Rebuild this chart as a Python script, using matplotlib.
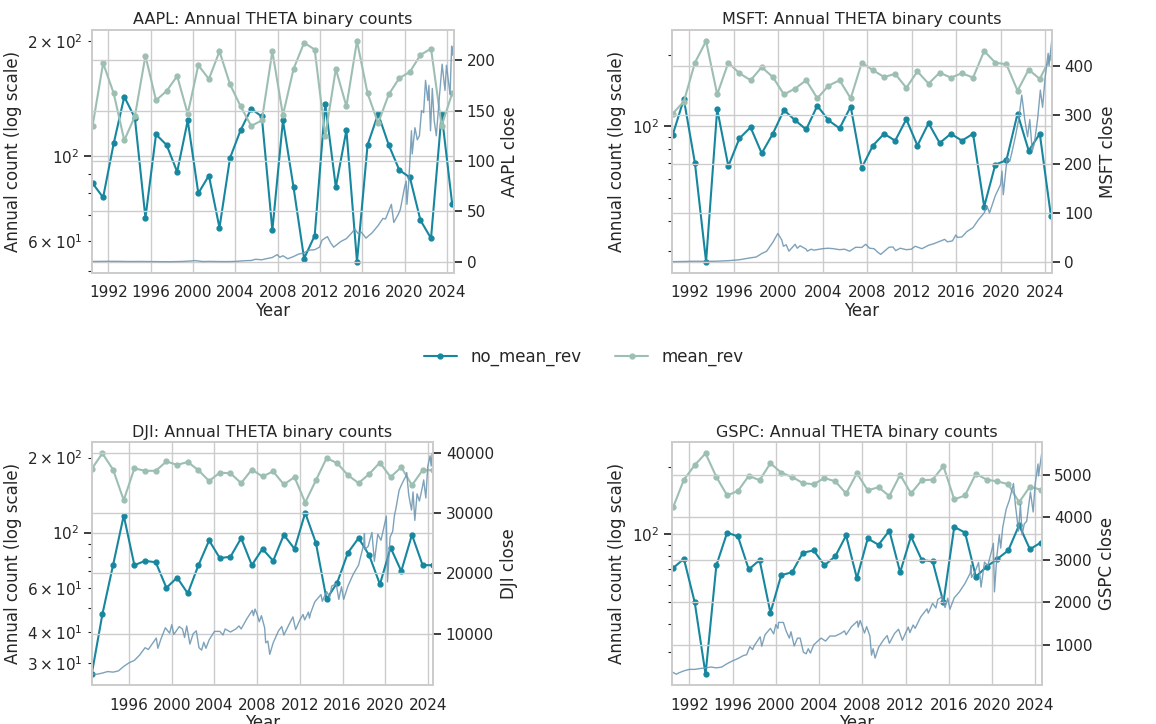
import numpy as np
import matplotlib
matplotlib.use('Agg')
import matplotlib.pyplot as plt
import seaborn as sns
from matplotlib.ticker import MultipleLocator, NullFormatter

sns.set_theme(style='whitegrid')
plt.rcParams['font.family'] = ['DejaVu Sans']

C_NO = '#17879f'      # no_mean_rev
C_MR = '#9dbfb2'      # mean_rev
C_PX = '#6f98b3'      # close price

'''
    Annual counts (read off the chart), one value per year
'''
aapl_years = np.arange(1990, 2025)
aapl_no = [85, 78, 108, 143, 126, 69, 114, 107, 91, 124, 80, 89, 65, 99, 117, 133, 127,
           64, 124, 83, 54, 62, 137, 83, 117, 53, 107, 129, 107, 92, 88, 68, 61, 129, 75]
aapl_mr = [120, 175, 146, 110, 127, 183, 140, 148, 162, 129, 173, 159, 188, 154, 135, 120, 124,
           188, 128, 169, 198, 190, 113, 169, 135, 200, 146, 122, 145, 160, 166, 184, 191, 120, 146]

msft_years = np.arange(1990, 2025)
msft_no = [92, 130, 70, 27, 118, 68, 89, 99, 77, 93, 117, 106, 97, 122, 106, 98, 121,
           67, 83, 93, 87, 107, 83, 103, 85, 93, 87, 93, 46, 69, 72, 113, 79, 93, 42]
msft_mr = [113, 127, 185, 228, 136, 185, 167, 156, 177, 161, 136, 144, 156, 131, 148, 156, 131,
           185, 172, 161, 166, 145, 170, 151, 168, 160, 167, 160, 207, 185, 182, 141, 173, 158, 196]

dji_years = np.arange(1992, 2025)
dji_no = [27, 47, 74, 117, 74, 77, 76, 60, 66, 57, 74, 93, 79, 80, 95, 74, 86,
          77, 98, 86, 120, 91, 54, 63, 83, 95, 81, 62, 87, 70, 98, 74, 74]
dji_mr = [180, 208, 179, 135, 181, 177, 177, 193, 187, 192, 178, 161, 174, 173, 158, 179, 168,
          176, 156, 167, 132, 162, 199, 190, 170, 158, 172, 191, 167, 183, 155, 178, 178]

gspc_years = np.arange(1990, 2025)
gspc_no = [71, 78, 50, 24, 73, 102, 98, 70, 77, 45, 66, 68, 83, 85, 73, 80, 99,
           64, 96, 90, 104, 68, 98, 77, 76, 50, 108, 102, 65, 72, 78, 85, 110, 86, 92]
gspc_mr = [132, 175, 203, 229, 180, 149, 156, 182, 174, 207, 188, 180, 169, 167, 178, 172, 152,
           187, 157, 162, 148, 184, 152, 174, 175, 201, 143, 149, 186, 175, 172, 167, 139, 163, 158]

'''
    Close prices (read off the chart), decimal year / close
'''
aapl_t = [1990.42, 1991.0, 1991.5, 1992.0, 1993.0, 1994.0, 1995.0, 1996.0, 1997.0, 1997.9,
          1999.0, 1999.9, 2000.2, 2000.9, 2001.5, 2002.5, 2003.3, 2004.0, 2004.9, 2005.5,
          2005.9, 2006.5, 2006.9, 2007.5, 2007.95, 2008.2, 2008.5, 2008.95, 2009.5, 2009.95,
          2010.5, 2010.95, 2011.5, 2011.95, 2012.2, 2012.7, 2013.0, 2013.3, 2013.95, 2014.5,
          2014.95, 2015.3, 2015.6, 2015.9, 2016.35, 2016.95, 2017.5, 2017.95, 2018.2, 2018.75,
          2018.98, 2019.4, 2019.6, 2019.98, 2020.15, 2020.22, 2020.4, 2020.65, 2020.72, 2020.98,
          2021.2, 2021.4, 2021.6, 2021.8, 2021.98, 2022.2, 2022.3, 2022.45, 2022.62, 2022.8,
          2023.0, 2023.3, 2023.55, 2023.82, 2023.96, 2024.3, 2024.45, 2024.55, 2024.7]
aapl_px = [0.35, 0.4, 0.45, 0.5, 0.45, 0.3, 0.35, 0.25, 0.15, 0.13,
           0.35, 0.9, 1.2, 0.27, 0.4, 0.25, 0.23, 0.38, 1.1, 1.3,
           2.5, 2.0, 3.0, 4.3, 7.1, 4.5, 6.0, 3.0, 5.2, 7.5,
           9.0, 11.5, 12.0, 14.5, 21.5, 25.0, 19.0, 14.5, 20.0, 23.0,
           28.0, 32.5, 28.0, 29.5, 23.5, 29.0, 36.0, 43.0, 42.5, 57.0,
           39.0, 47.0, 52.0, 73.0, 80.0, 57.0, 80.0, 130.0, 107.0, 133.0,
           121.0, 125.0, 150.0, 148.0, 180.0, 160.0, 175.0, 130.0, 172.0, 140.0,
           125.0, 165.0, 196.0, 170.0, 195.0, 166.0, 214.0, 205.0, 219.0]

msft_t = [1990.41, 1991.5, 1992.5, 1993.5, 1994.5, 1995.5, 1996.5, 1997.5, 1998.0, 1998.5,
          1998.95, 1999.5, 1999.95, 2000.3, 2000.45, 2000.7, 2000.95, 2001.5, 2001.7, 2001.95,
          2002.5, 2002.6, 2002.95, 2003.2, 2003.95, 2004.5, 2004.95, 2005.5, 2005.95, 2006.4,
          2006.95, 2007.5, 2007.85, 2008.2, 2008.6, 2008.95, 2009.2, 2009.95, 2010.3, 2010.55,
          2010.95, 2011.5, 2011.95, 2012.3, 2012.9, 2013.5, 2013.95, 2014.5, 2014.95, 2015.2,
          2015.65, 2015.95, 2016.1, 2016.5, 2016.95, 2017.5, 2017.95, 2018.5, 2018.75, 2018.98,
          2019.5, 2019.98, 2020.1, 2020.22, 2020.55, 2020.8, 2020.98, 2021.3, 2021.6, 2021.88,
          2022.15, 2022.4, 2022.6, 2022.82, 2023.0, 2023.3, 2023.55, 2023.75, 2023.98, 2024.25,
          2024.33, 2024.57]
msft_px = [0.6, 1.0, 1.5, 1.3, 1.6, 2.6, 4.5, 8.5, 10.0, 17.0,
           22.0, 40.0, 58.0, 45.0, 32.0, 35.0, 22.0, 36.0, 28.0, 33.0,
           26.0, 22.0, 26.0, 24.0, 27.0, 28.0, 27.0, 25.0, 26.0, 22.0,
           30.0, 29.5, 36.0, 28.0, 27.0, 19.5, 15.5, 30.0, 30.5, 23.0,
           28.0, 25.0, 26.0, 32.0, 27.0, 34.0, 37.0, 42.0, 46.0, 41.0,
           43.0, 55.0, 50.0, 51.0, 62.0, 70.0, 85.0, 100.0, 114.0, 100.0,
           135.0, 158.0, 185.0, 137.0, 210.0, 205.0, 222.0, 255.0, 290.0, 340.0,
           290.0, 255.0, 290.0, 226.0, 240.0, 290.0, 350.0, 315.0, 376.0, 425.0,
           400.0, 450.0]

dji_t = [1992.5, 1993.0, 1993.5, 1994.0, 1994.5, 1995.0, 1995.5, 1996.0, 1996.5, 1997.0,
         1997.5, 1997.8, 1998.0, 1998.55, 1998.7, 1999.0, 1999.4, 1999.8, 2000.0, 2000.2,
         2000.7, 2001.0, 2001.2, 2001.4, 2001.7, 2002.0, 2002.3, 2002.55, 2002.8, 2003.0,
         2003.2, 2003.5, 2004.0, 2004.5, 2004.8, 2005.0, 2005.5, 2006.0, 2006.3, 2006.5,
         2007.0, 2007.55, 2007.65, 2007.8, 2008.0, 2008.2, 2008.4, 2008.7, 2008.8, 2009.0,
         2009.18, 2009.5, 2010.0, 2010.3, 2010.5, 2011.0, 2011.35, 2011.6, 2012.0, 2012.3,
         2012.45, 2012.8, 2012.9, 2013.0, 2013.4, 2013.98, 2014.1, 2014.5, 2014.8, 2014.98,
         2015.4, 2015.65, 2015.9, 2016.1, 2016.5, 2016.98, 2017.5, 2017.98, 2018.05, 2018.1,
         2018.4, 2018.75, 2018.98, 2019.3, 2019.6, 2019.98, 2020.1, 2020.21, 2020.45, 2020.7,
         2020.85, 2020.98, 2021.3, 2021.6, 2021.98, 2022.0, 2022.2, 2022.46, 2022.6, 2022.77,
         2022.98, 2023.2, 2023.5, 2023.6, 2023.8, 2023.98, 2024.2, 2024.3, 2024.4, 2024.5]
dji_px = [3350, 3300, 3500, 3750, 3650, 3850, 4600, 5200, 5600, 6500,
          7700, 7400, 7900, 9300, 7600, 9200, 11000, 10100, 11500, 9900,
          11200, 10800, 9400, 11300, 8300, 10000, 10500, 7700, 7300, 8600,
          7600, 9000, 10400, 10400, 9800, 10800, 10300, 10800, 11300, 10800,
          12400, 13900, 13000, 14100, 13200, 12000, 13000, 11000, 8500, 8800,
          6600, 8500, 10500, 11200, 9800, 11600, 12800, 10700, 12300, 13200,
          12300, 13600, 12600, 13400, 15300, 16500, 15400, 17000, 16100, 17900,
          18300, 15700, 17800, 15700, 17900, 19800, 21400, 24800, 26600, 24000,
          24500, 26800, 22000, 26500, 25500, 28500, 29500, 18600, 26000, 27000,
          29500, 30600, 33800, 35000, 36300, 36700, 33000, 30500, 33500, 28800,
          33200, 32000, 34500, 35500, 32500, 37700, 39500, 37800, 39900, 39100]

gspc_t = [1990.37, 1990.8, 1991.0, 1991.5, 1992.0, 1992.5, 1993.0, 1993.5, 1994.0, 1994.5,
          1995.0, 1995.5, 1996.0, 1996.5, 1997.0, 1997.3, 1997.6, 1997.85, 1998.0, 1998.55,
          1998.7, 1999.0, 1999.5, 1999.8, 2000.0, 2000.2, 2000.25, 2000.7, 2000.95, 2001.25,
          2001.4, 2001.7, 2002.0, 2002.25, 2002.55, 2002.8, 2003.0, 2003.2, 2003.5, 2004.0,
          2004.2, 2004.6, 2005.0, 2005.5, 2006.0, 2006.35, 2006.5, 2007.0, 2007.55, 2007.62,
          2007.8, 2008.0, 2008.2, 2008.4, 2008.7, 2008.85, 2009.0, 2009.18, 2009.5, 2009.98,
          2010.3, 2010.5, 2010.98, 2011.35, 2011.7, 2011.98, 2012.25, 2012.4, 2012.7, 2012.88,
          2012.98, 2013.4, 2013.98, 2014.1, 2014.5, 2014.8, 2014.98, 2015.4, 2015.65, 2015.9,
          2016.1, 2016.5, 2016.98, 2017.5, 2017.98, 2018.05, 2018.1, 2018.4, 2018.75, 2018.98,
          2019.3, 2019.6, 2019.98, 2020.12, 2020.22, 2020.45, 2020.67, 2020.8, 2020.98, 2021.3,
          2021.6, 2021.98, 2022.15, 2022.45, 2022.62, 2022.78, 2022.98, 2023.2, 2023.55, 2023.8,
          2023.98, 2024.25, 2024.3, 2024.59]
gspc_px = [360, 300, 330, 380, 415, 415, 435, 450, 470, 450,
           470, 550, 615, 670, 740, 760, 950, 880, 970, 1180,
           960, 1230, 1380, 1250, 1470, 1380, 1520, 1520, 1320, 1150,
           1300, 965, 1150, 1150, 820, 780, 900, 800, 990, 1110,
           1150, 1080, 1200, 1200, 1260, 1320, 1230, 1420, 1550, 1410,
           1565, 1420, 1270, 1420, 1200, 750, 900, 680, 930, 1115,
           1210, 1030, 1260, 1360, 1100, 1260, 1410, 1280, 1460, 1380,
           1430, 1650, 1840, 1740, 1970, 1860, 2060, 2130, 1870, 2090,
           1830, 2100, 2240, 2440, 2680, 2870, 2580, 2700, 2930, 2350,
           2940, 2850, 3230, 3380, 2240, 3100, 3580, 3270, 3750, 4180,
           4400, 4790, 4300, 3670, 4300, 3580, 3840, 3900, 4590, 4120,
           4770, 5250, 4970, 5500]

panels = [
    ('AAPL', aapl_years, aapl_no, aapl_mr, aapl_t, aapl_px, [91.7, 30.0, 454.3, 272.7], True),
    ('MSFT', msft_years, msft_no, msft_mr, msft_t, msft_px, [671.7, 30.0, 1051.7, 272.7], False),
    ('DJI', dji_years, dji_no, dji_mr, dji_t, dji_px, [91.7, 442.3, 433.3, 685.3], True),
    ('GSPC', gspc_years, gspc_no, gspc_mr, gspc_t, gspc_px, [671.7, 442.3, 1041.7, 685.3], False),
]

W, H = 1156, 724
fig = plt.figure(figsize=(W / 100, H / 100), dpi=100)

for name, years, no_mr, mr, t, px, (x0, y0, x1, y1), minor_lab in panels:
    ax = fig.add_axes([x0 / W, 1 - y1 / H, (x1 - x0) / W, (y1 - y0) / H])
    xs = np.clip(years + 0.5, t[0], t[-1])
    ax.plot(xs, no_mr, color=C_NO, marker='o', ms=3.5, lw=1.5, label='no_mean_rev')
    ax.plot(xs, mr, color=C_MR, marker='o', ms=3.5, lw=1.5, label='mean_rev')
    ax.set_yscale('log')
    if not minor_lab:
        ax.yaxis.set_minor_formatter(NullFormatter())
    ax.tick_params(axis='y', which='minor', left=True, length=3, width=0.8, color='.15')
    ax.tick_params(axis='both', which='major', labelsize=11, pad=3)
    ax.tick_params(axis='y', which='minor', labelsize=11)
    ax.set_ylabel('Annual count (log scale)', fontsize=12)
    ax.set_xlabel('Year', fontsize=12, labelpad=1)
    ax.set_title('%s: Annual THETA binary counts' % name, fontsize=11.5, pad=4)
    ax.xaxis.set_major_locator(MultipleLocator(4))

    ax2 = ax.twinx()
    ax2.plot(t, px, color=C_PX, lw=1.0, alpha=0.9)
    ax2.set_ylabel('%s close' % name, fontsize=12)
    ax2.tick_params(axis='y', labelsize=11, pad=3)
    ax2.grid(True)
    ax.set_xlim(t[0], t[-1])
    for sp in ax2.spines.values():
        sp.set_color('.8')

handles, labels = ax.get_legend_handles_labels()
fig.legend(handles, labels, loc='center', ncol=2, frameon=False, fontsize=12,
           bbox_to_anchor=(0.505, 1 - 357 / H))

fig.savefig('out.png', dpi=100)
